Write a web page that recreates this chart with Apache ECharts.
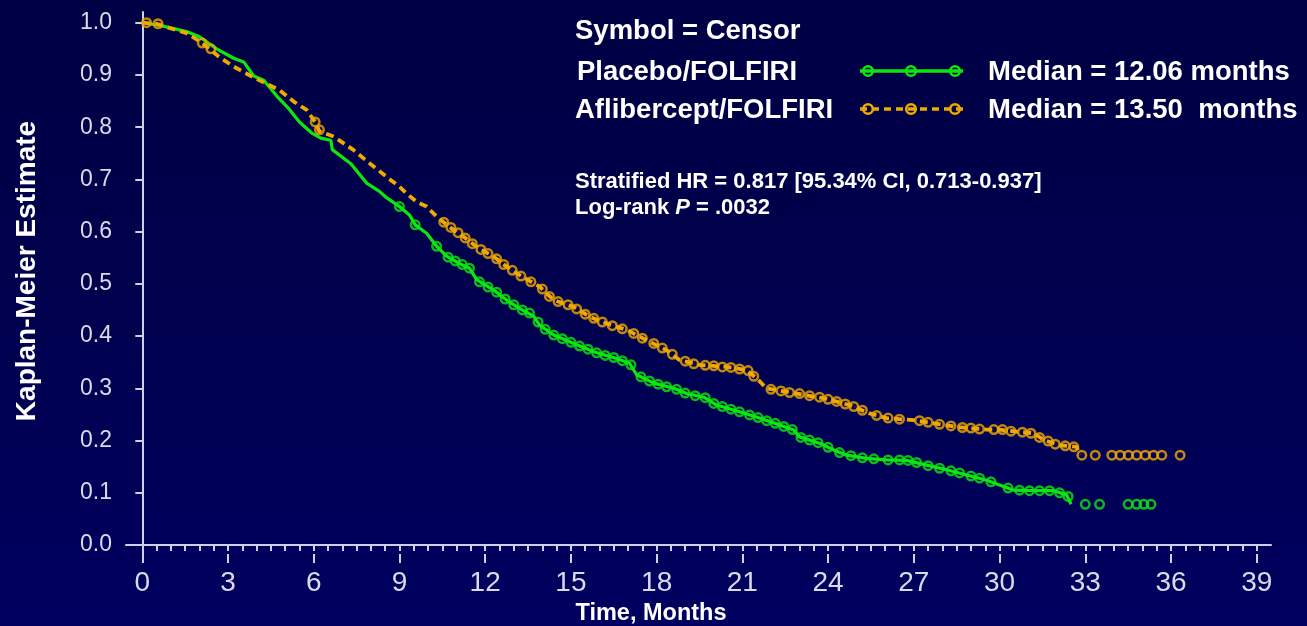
<!DOCTYPE html>
<html>
<head>
<meta charset="utf-8">
<title>Kaplan-Meier: Aflibercept/FOLFIRI vs Placebo/FOLFIRI</title>
<script src="https://cdn.jsdelivr.net/npm/echarts@6/dist/echarts.min.js"></script>
<style>
  html, body { margin: 0; padding: 0; width: 1307px; height: 626px; overflow: hidden;
    background: linear-gradient(to bottom, #000044 0%, #00004e 50%, #000060 100%); }
  #chart { width: 1307px; height: 626px; }
</style>
</head>
<body>
<div id="chart"></div>
<script>
// Kaplan-Meier survival estimates, [month, survival]
const placeboCurve = [
  [0, 1.000], [0.5, 0.996], [1.0, 0.990], [1.55, 0.983], [2.0, 0.973], [2.6, 0.950],
  [3.2, 0.932], [3.55, 0.925], [3.9, 0.898], [4.25, 0.890], [4.7, 0.860], [5.15, 0.834],
  [5.5, 0.810], [5.95, 0.788], [6.25, 0.779], [6.6, 0.775], [6.65, 0.757], [7.3, 0.730],
  [7.85, 0.693], [8.3, 0.677], [8.55, 0.665], [9.0, 0.648], [9.35, 0.632], [9.55, 0.613],
  [9.95, 0.597], [10.3, 0.572], [10.65, 0.553], [11.1, 0.539], [11.45, 0.530], [11.7, 0.508],
  [12.3, 0.488], [12.75, 0.469], [13.2, 0.453], [13.7, 0.438], [13.9, 0.421], [14.4, 0.402],
  [15.1, 0.386], [15.8, 0.370], [16.6, 0.357], [17.05, 0.348], [17.3, 0.326], [17.9, 0.310],
  [18.6, 0.300], [19.05, 0.290], [19.65, 0.283], [20.1, 0.268], [20.9, 0.255], [21.6, 0.243],
  [22.3, 0.230], [22.8, 0.220], [23.0, 0.207], [23.7, 0.195], [24.2, 0.182], [24.65, 0.172],
  [25.35, 0.166], [26.05, 0.163], [26.75, 0.162], [27.45, 0.153], [28.15, 0.144], [28.85, 0.134],
  [29.55, 0.124], [30.0, 0.115], [30.5, 0.105], [31.2, 0.104], [31.9, 0.104], [32.35, 0.096],
  [32.5, 0.078]
];

const afliberceptCurve = [
  [0, 1.000], [0.5, 0.998], [1.0, 0.989], [1.55, 0.980], [2.1, 0.961], [2.7, 0.934],
  [3.2, 0.916], [3.9, 0.895], [4.8, 0.871], [5.3, 0.849], [5.75, 0.833], [6.05, 0.810],
  [6.2, 0.792], [6.7, 0.782], [7.4, 0.756], [7.95, 0.731], [8.55, 0.705], [9.0, 0.686],
  [9.25, 0.673], [9.6, 0.657], [9.95, 0.648], [10.3, 0.629], [10.75, 0.609], [11.25, 0.590],
  [11.7, 0.571], [12.3, 0.552], [12.75, 0.533], [13.2, 0.517], [13.7, 0.501], [13.9, 0.495],
  [14.4, 0.469], [15.1, 0.456], [15.65, 0.437], [16.25, 0.424], [16.95, 0.412], [17.65, 0.392],
  [18.35, 0.373], [18.8, 0.354], [19.5, 0.345], [20.45, 0.341], [21.15, 0.335], [21.5, 0.319],
  [21.85, 0.300], [22.8, 0.291], [23.5, 0.284], [23.85, 0.281], [24.75, 0.268], [25.45, 0.252],
  [26.05, 0.243], [27.0, 0.239], [27.7, 0.233], [28.5, 0.226], [29.55, 0.221], [30.0, 0.221],
  [30.6, 0.217], [31.2, 0.214], [31.55, 0.201], [32.1, 0.191], [32.7, 0.188], [32.8, 0.172]
];

// Censored observations, [month, survival]
const placeboCensor = [
  [9.0, 0.648], [9.55, 0.613], [10.3, 0.572], [10.7, 0.551], [10.95, 0.544], [11.2, 0.537],
  [11.45, 0.530], [11.8, 0.504], [12.1, 0.494], [12.4, 0.484], [12.7, 0.471], [13.0, 0.460],
  [13.3, 0.450], [13.55, 0.444], [13.85, 0.427], [14.1, 0.413], [14.4, 0.402], [14.7, 0.395],
  [15.0, 0.388], [15.3, 0.381], [15.6, 0.375], [15.9, 0.368], [16.2, 0.363], [16.5, 0.359],
  [16.8, 0.353], [17.1, 0.345], [17.45, 0.322], [17.75, 0.314], [18.05, 0.308], [18.35, 0.303],
  [18.7, 0.298], [19.0, 0.291], [19.35, 0.286], [19.7, 0.282], [20.0, 0.271], [20.3, 0.265],
  [20.6, 0.260], [20.9, 0.255], [21.25, 0.249], [21.55, 0.244], [21.85, 0.238], [22.15, 0.233],
  [22.45, 0.227], [22.75, 0.221], [23.05, 0.206], [23.35, 0.201], [23.65, 0.196], [24.0, 0.187],
  [24.4, 0.177], [24.8, 0.171], [25.2, 0.167], [25.6, 0.165], [26.1, 0.163], [26.5, 0.163],
  [26.8, 0.162], [27.1, 0.158], [27.5, 0.152], [27.9, 0.147], [28.3, 0.142], [28.6, 0.138],
  [29.0, 0.132], [29.3, 0.128], [29.7, 0.121], [30.3, 0.109], [30.7, 0.105], [31.05, 0.104],
  [31.4, 0.104], [31.75, 0.104], [32.1, 0.100], [32.4, 0.093],
  [33.0, 0.078], [33.5, 0.078], [34.5, 0.078], [34.8, 0.078], [35.05, 0.078], [35.3, 0.078]
];

const afliberceptCensor = [
  [0.15, 1.000], [0.55, 0.998], [2.1, 0.961], [2.4, 0.950], [6.05, 0.810], [6.2, 0.795],
  [10.55, 0.618], [10.8, 0.608], [11.05, 0.598], [11.3, 0.588], [11.55, 0.577], [11.85, 0.566],
  [12.1, 0.558], [12.4, 0.548], [12.65, 0.537], [12.95, 0.526], [13.25, 0.515], [13.6, 0.504],
  [14.0, 0.490], [14.25, 0.476], [14.55, 0.466], [14.9, 0.460], [15.2, 0.452], [15.5, 0.442],
  [15.8, 0.434], [16.1, 0.427], [16.45, 0.420], [16.8, 0.414], [17.2, 0.405], [17.5, 0.396],
  [17.9, 0.386], [18.2, 0.377], [18.55, 0.365], [19.0, 0.352], [19.3, 0.347], [19.7, 0.344],
  [20.0, 0.343], [20.3, 0.341], [20.6, 0.340], [20.9, 0.337], [21.2, 0.334], [21.4, 0.323],
  [22.0, 0.298], [22.35, 0.295], [22.65, 0.292], [23.0, 0.290], [23.35, 0.286], [23.7, 0.283],
  [24.0, 0.279], [24.3, 0.275], [24.6, 0.270], [24.9, 0.265], [25.2, 0.258], [25.7, 0.248],
  [26.1, 0.243], [26.5, 0.241], [27.2, 0.238], [27.5, 0.235], [27.9, 0.231], [28.3, 0.228],
  [28.7, 0.225], [29.0, 0.224], [29.3, 0.222], [29.8, 0.221], [30.1, 0.221], [30.4, 0.218],
  [30.8, 0.216], [31.1, 0.214], [31.4, 0.206], [31.7, 0.199], [31.95, 0.193], [32.3, 0.190],
  [32.6, 0.188],
  [32.88, 0.172], [33.35, 0.172], [33.93, 0.172], [34.22, 0.172], [34.51, 0.172], [34.8, 0.172],
  [35.1, 0.172], [35.39, 0.172], [35.68, 0.172], [36.32, 0.172]
];

// Axis tick values
const monthTicks = [0, 3, 6, 9, 12, 15, 18, 21, 24, 27, 30, 33, 36, 39];
const survivalTicks = [0, 0.1, 0.2, 0.3, 0.4, 0.5, 0.6, 0.7, 0.8, 0.9, 1.0];

// Legend / annotation text
const legendTitle = 'Symbol = Censor';
const armNames = ['Placebo/FOLFIRI', 'Aflibercept/FOLFIRI'];
const armMedians = ['Median = 12.06 months', 'Median = 13.50  months'];
const hrText = 'Stratified HR = 0.817 [95.34% CI, 0.713-0.937]';
const pValue = '.0032';

const GREEN = '#0ce80c';
const ORANGE = '#f0a900';
const AXIS = '#cfcfe6';
const LABEL = '#dadaea';
const FONT = "'Liberation Sans', Arial, sans-serif";

const minorTicks = [];
for (let m = 0; m <= 39; m += 0.5) minorTicks.push(m);

const chart = echarts.init(document.getElementById('chart'), null, { renderer: 'canvas' });

function censorMarks(color) {
  return {
    symbol: 'circle',
    symbolSize: 8.5,
    itemStyle: { color: 'rgba(0,0,0,0)', borderColor: color, borderWidth: 2.5 }
  };
}

function legendSample(y, color, dashed) {
  const items = [{
    type: 'line',
    shape: { x1: 860, y1: y, x2: 963, y2: y },
    style: { stroke: color, lineWidth: dashed ? 3.5 : 3.5, lineDash: dashed ? [7, 5] : null }
  }];
  [868, 911, 955].forEach(cx => items.push({
    type: 'circle',
    shape: { cx: cx, cy: y, r: 4.8 },
    style: { fill: 'rgba(0,0,0,0)', stroke: color, lineWidth: 2.6 }
  }));
  return items;
}

const legendFont = `bold 27.5px ${FONT}`;

chart.setOption({
  backgroundColor: 'transparent',
  animation: false,
  grid: { left: 126, right: 36, top: 12, bottom: 72, containLabel: false },
  xAxis: [
    {
      type: 'value', min: -0.57, max: 39.5,
      axisLine: { show: true, lineStyle: { color: AXIS, width: 2 } },
      axisTick: { show: true, customValues: minorTicks, length: 6, lineStyle: { color: AXIS, width: 2 } },
      axisLabel: { show: false },
      splitLine: { show: false }
    },
    {
      type: 'value', position: 'bottom', min: -0.57, max: 39.5,
      axisLine: { show: false },
      axisTick: { show: true, customValues: monthTicks, length: 9, lineStyle: { color: AXIS, width: 2 } },
      axisLabel: {
        show: true, customValues: monthTicks, margin: 15,
        color: LABEL, fontFamily: FONT, fontSize: 28,
        formatter: v => String(v)
      },
      splitLine: { show: false }
    }
  ],
  yAxis: {
    type: 'value', min: -0.0172, max: 1.0205,
    axisLine: { show: true, lineStyle: { color: AXIS, width: 2 } },
    axisTick: { show: true, customValues: survivalTicks, length: 7, lineStyle: { color: AXIS, width: 2 } },
    axisLabel: {
      show: true, customValues: survivalTicks, margin: 14,
      color: LABEL, fontFamily: FONT, fontSize: 23,
      formatter: v => v.toFixed(1)
    },
    splitLine: { show: false }
  },
  series: [
    {
      name: armNames[0], type: 'line', xAxisIndex: 0, data: placeboCurve,
      showSymbol: false, symbol: 'none',
      lineStyle: { color: GREEN, width: 3.2 }, z: 2
    },
    Object.assign({
      name: armNames[0] + ' censored', type: 'scatter', xAxisIndex: 0, data: placeboCensor, z: 3
    }, censorMarks(GREEN)),
    {
      name: armNames[1], type: 'line', xAxisIndex: 0, data: afliberceptCurve,
      showSymbol: false, symbol: 'none',
      lineStyle: { color: ORANGE, width: 3.8, type: [8, 5] }, z: 4
    },
    Object.assign({
      name: armNames[1] + ' censored', type: 'scatter', xAxisIndex: 0, data: afliberceptCensor, z: 5
    }, censorMarks(ORANGE))
  ],
  graphic: [
    {
      type: 'text', x: 27, y: 271, rotation: Math.PI / 2,
      style: { text: 'Kaplan-Meier Estimate', fill: '#ffffff', font: `bold 28px ${FONT}`,
               align: 'center', verticalAlign: 'middle' }
    },
    {
      type: 'text', x: 651, y: 614,
      style: { text: 'Time, Months', fill: '#ffffff', font: `bold 23.5px ${FONT}`,
               align: 'center', verticalAlign: 'middle' }
    },
    { type: 'text', x: 575, y: 31,
      style: { text: legendTitle, fill: '#ffffff', font: legendFont, verticalAlign: 'middle' } },
    { type: 'text', x: 577, y: 72,
      style: { text: armNames[0], fill: '#ffffff', font: legendFont, verticalAlign: 'middle' } },
    { type: 'text', x: 988, y: 72,
      style: { text: armMedians[0], fill: '#ffffff', font: legendFont, verticalAlign: 'middle' } },
    { type: 'text', x: 575, y: 110,
      style: { text: armNames[1], fill: '#ffffff', font: legendFont, verticalAlign: 'middle' } },
    { type: 'text', x: 988, y: 110,
      style: { text: armMedians[1], fill: '#ffffff', font: legendFont, verticalAlign: 'middle' } },
    ...legendSample(71, GREEN, false),
    ...legendSample(109, ORANGE, true),
    { type: 'text', x: 575, y: 182,
      style: { text: hrText, fill: '#ffffff', font: `bold 22px ${FONT}`, verticalAlign: 'middle' } },
    {
      type: 'text', x: 575, y: 208,
      style: {
        text: '{n|Log-rank }{i|P}{n| = ' + pValue + '}',
        verticalAlign: 'middle',
        rich: {
          n: { fill: '#ffffff', fontFamily: FONT, fontWeight: 'bold', fontSize: 22 },
          i: { fill: '#ffffff', fontFamily: FONT, fontWeight: 'bold', fontStyle: 'italic', fontSize: 22 }
        }
      }
    }
  ]
});
</script>
</body>
</html>
